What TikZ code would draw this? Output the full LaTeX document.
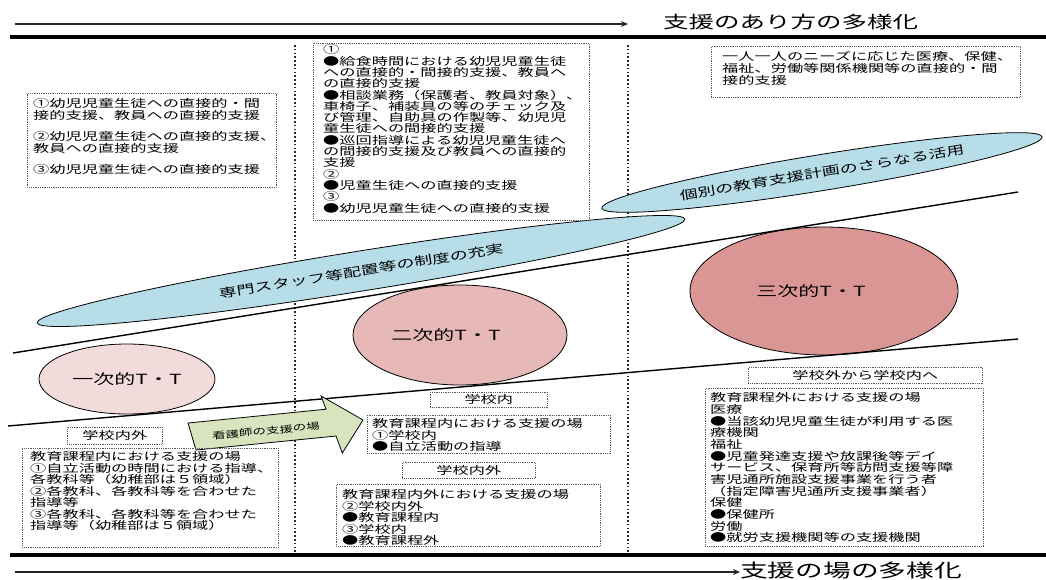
\documentclass[tikz,border=0pt]{standalone}
\usepackage{fontspec}
\newfontfamily\jp[FakeStretch=1.5]{Noto Sans CJK JP}
\usetikzlibrary{shapes.geometric,arrows.meta,calc}
\definecolor{lblue}{HTML}{B7DEE8}
\definecolor{pkA}{HTML}{F2DCDB}
\definecolor{pkB}{HTML}{E6B8B7}
\definecolor{pkC}{HTML}{D99694}
\definecolor{lgreen}{HTML}{D7E4BD}
\begin{document}
\begin{tikzpicture}[x=1pt,y=-1pt,
  jpt/.style={font=\jp\fontsize{10.8}{11.5}\selectfont, align=left, inner sep=0, anchor=north west},
  dbox/.style={rectangle, draw=black!65, line width=0.6pt, dash pattern=on 0.7pt off 1.1pt, inner sep=0, anchor=north west},
  lbl/.style={font=\jp\fontsize{10.8}{11.5}\selectfont, inner sep=0},
  vdot/.style={line width=1.6pt, dash pattern=on 1.6pt off 2.2pt, black!85},
  oval/.style={ellipse, draw=black, line width=0.8pt, inner sep=0},
  tt/.style={font=\jp\fontsize{14}{14}\selectfont},
  hrule/.style={line width=3.5pt, black},
  flowarrow/.style={line width=1.4pt, black!85, -{Stealth[length=7pt,width=6pt]}},
  slant/.style={line width=1.4pt, black}]
\useasboundingbox (0,0) rectangle (1046,579);

% titles and arrows
\node[font=\jp\fontsize{17}{17}\selectfont, anchor=west, inner sep=0] (t1) at (663,22) {支援のあり方の多様化};
\coordinate (a1s) at (15,24);
\coordinate (a1e) at (628,24);
\draw[flowarrow] (a1s) -- (a1e);
\node[font=\jp\fontsize{18.5}{18.5}\selectfont, anchor=west, inner sep=0] (t2) at (740,570) {支援の場の多様化};
\coordinate (a2s) at (15,572);
\draw[flowarrow] (a2s) -- (t2.west |- a2s);

% horizontal rules
\coordinate (r1a) at (10,37); \coordinate (r1b) at (1046,37);
\coordinate (r2a) at (10,555); \coordinate (r2b) at (1046,555);
\draw[hrule] (r1a) -- (r1b);
\draw[hrule] (r2a) -- (r2b);

% vertical dotted separators
\coordinate (v1a) at (295,45); \coordinate (v1b) at (295,553);
\coordinate (v2a) at (628,45); \coordinate (v2b) at (628,553);
\draw[vdot] (v1a) -- (v1b);
\draw[vdot] (v2a) -- (v2b);

% blue ovals
\node[oval, fill=lblue, minimum width=656, minimum height=40, rotate=9.1, font=\jp\fontsize{12}{12}\selectfont] (e1) at (361,271) {専門スタッフ等配置等の制度の充実};
\node[oval, fill=lblue, minimum width=446, minimum height=36, rotate=9.2, font=\jp\fontsize{12}{12}\selectfont] (e2) at (822,172.5) {個別の教育支援計画のさらなる活用};

% T.T circles
\node[oval, fill=pkA, minimum width=176, minimum height=70, tt] (c1) at (127,379) {一次的T・T};
\node[oval, fill=pkB, minimum width=214, minimum height=100, tt] (c2) at (460,335) {二次的T・T\hspace*{28pt}};
\node[oval, fill=pkC, minimum width=268, minimum height=128, tt] (c3) at (824,291) {三次的T・T\hspace*{26pt}};

% slanted lines
\coordinate (la1) at (13,353); \coordinate (la2) at (1018,192);
\coordinate (lb1) at (8,426); \coordinate (lb2) at (1018,339);
\draw[slant] (la1) -- (la2);
\draw[slant] (lb1) -- (lb2);

% green arrow
\draw[fill=lgreen, draw=black, line width=0.8pt] (188,423) -- (326,409.2) -- (321.1,396) -- (363,420) -- (342.3,453) -- (336,436) -- (196,450) -- cycle;
\node[font=\jp\fontsize{9}{9}\selectfont, rotate=5.5, inner sep=0] (ga) at (266,431) {看護師の支援の場};

% top-left box
\node[dbox, minimum width=249, minimum height=94] (b1) at (27,93) {};
\node[jpt] (b1t) at (33,98.5) {①幼児児童生徒への直接的・間\\接的支援、教員への直接的支援\\[10pt]②幼児児童生徒への直接的支援、\\教員への直接的支援\\[10pt]③幼児児童生徒への直接的支援};

% top-middle box
\node[dbox, minimum width=276, minimum height=177] (b2) at (313,43) {};
\node[jpt, font=\jp\fontsize{10.8}{11.3}\selectfont] (b2t) at (323,44.5) {①\\●給食時間における幼児児童生徒\\への直接的・間接的支援、教員へ\\の直接的支援\\●相談業務（保護者、教員対象）、\\車椅子、補装具の等のチェック及\\び管理、自助具の作製等、幼児児\\童生徒への間接的支援\\●巡回指導による幼児児童生徒へ\\の間接的支援及び教員への直接的\\支援\\②\\●児童生徒への直接的支援\\③\\●幼児児童生徒への直接的支援};

% top-right box
\node[dbox, minimum width=309, minimum height=51] (b3) at (711,46) {};
\node[jpt, font=\jp\fontsize{10.8}{12}\selectfont] (b3t) at (722,51.5) {一人一人のニーズに応じた医療、保健、\\福祉、労働等関係機関等の直接的・間\\接的支援};

% bottom-left
\node[dbox, minimum width=95, minimum height=17] (l1) at (67,427) {};
\node[lbl] (l1t) at (l1.center) {学校内外};
\node[dbox, minimum width=256, minimum height=99] (b4) at (22,448) {};
\node[jpt] (b4t) at (30,451.5) {教育課程内における支援の場\\①自立活動の時間における指導、\\各教科等（幼稚部は５領域）\\②各教科、各教科等を合わせた\\指導等\\③各教科、各教科等を合わせた\\指導等（幼稚部は５領域）};

% bottom-middle
\node[dbox, minimum width=117, minimum height=15] (l2) at (430,392) {};
\node[lbl] (l2t) at (l2.center) {学校内};
\node[dbox, minimum width=243, minimum height=38] (b5) at (367,415) {};
\node[jpt] (b5t) at (372,418.5) {教育課程内における支援の場\\①学校内\\●自立活動の指導};
\node[dbox, minimum width=133, minimum height=16] (l3) at (402,462) {};
\node[lbl] (l3t) at (l3.center) {学校内外};
\node[dbox, minimum width=264, minimum height=62] (b6) at (336,484) {};
\node[jpt] (b6t) at (342,489.5) {教育課程内外における支援の場\\②学校内外\\●教育課程内\\③学校内\\●教育課程外};

% bottom-right
\node[dbox, minimum width=234, minimum height=16] (l4) at (748,367) {};
\node[lbl] (l4t) at (l4.center) {学校外から学校内へ};
\node[dbox, minimum width=278, minimum height=158] (b7) at (705,388) {};
\node[jpt, font=\jp\fontsize{10.8}{11.67}\selectfont] (b7t) at (710,392.5) {教育課程外における支援の場\\医療\\●当該幼児児童生徒が利用する医\\療機関\\福祉\\●児童発達支援や放課後等デイ\\サービス、保育所等訪問支援等障\\害児通所施設支援事業を行う者\\（指定障害児通所支援事業者）\\保健\\●保健所\\労働\\●就労支援機関等の支援機関};
\end{tikzpicture}
\end{document}
